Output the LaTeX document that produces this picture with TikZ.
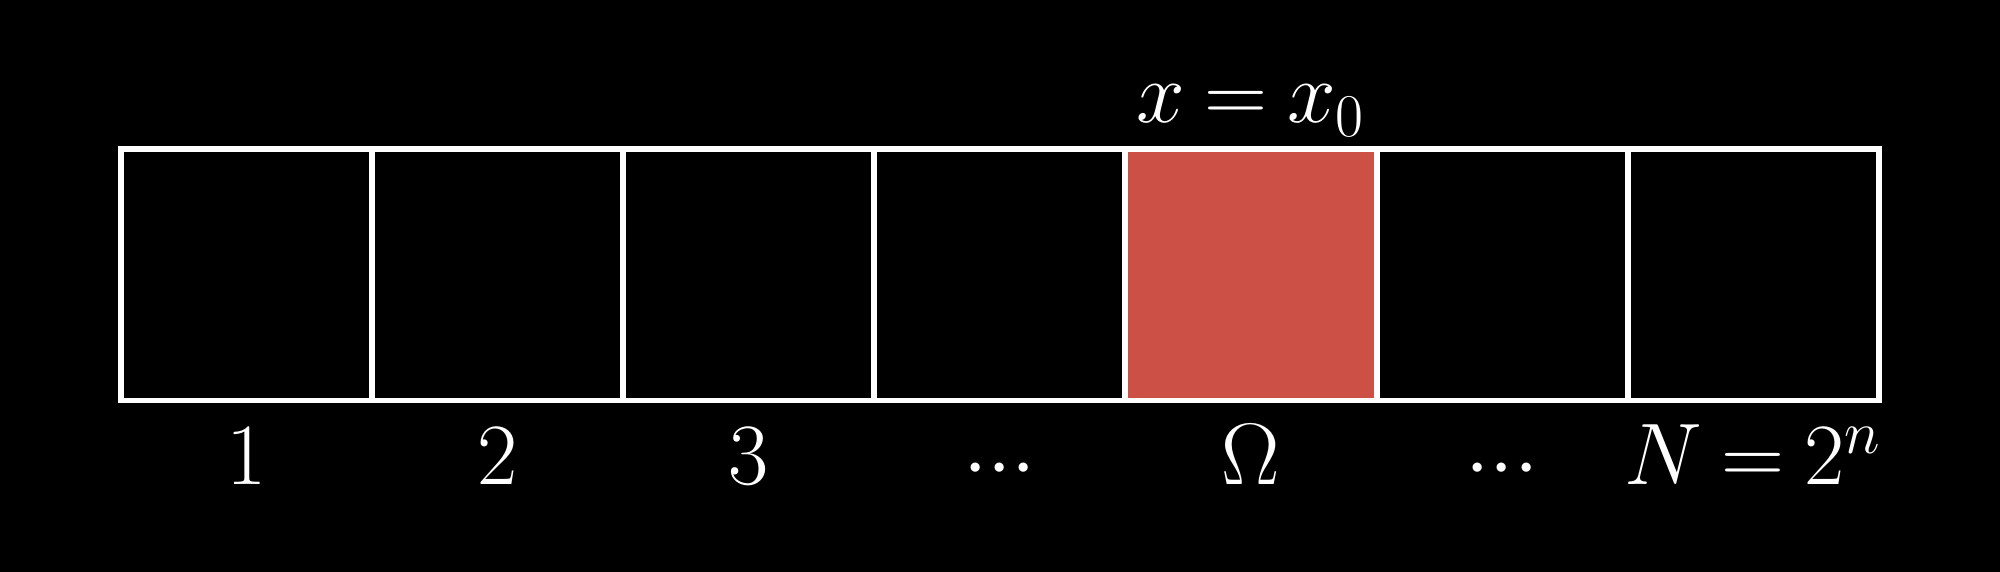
\documentclass[tikz,border=0pt]{standalone}
\usepackage{amsmath,amssymb}
\usetikzlibrary{positioning}
\definecolor{cellred}{HTML}{CC5046}
\thickmuskip=4mu plus 2mu
\begin{document}
\begin{tikzpicture}[font=\fontsize{23}{28}\selectfont,
  cell/.style={draw=white,line width=1.7pt,minimum size=2.511cm,inner sep=0pt,outer sep=0pt},
  lab/.style={text=white,anchor=base}]
\fill[black] (0,0) rectangle (20,5.72);
\useasboundingbox (0,0) rectangle (20,5.72);
% row of basis states
\foreach \i/\c in {1/black,2/black,3/black,4/black,5/cellred,6/black,7/black}{
  \node[cell,fill=\c,anchor=south west] (c\i) at ({1.21+2.511*(\i-1)},1.715){};
}
% marked state
\node[lab] (mark) at (c5.center |- 0,4.49) {$x=x_0$};
% indices below
\foreach \i/\t in {1/1,2/2,3/3,4/{\raisebox{-1.4pt}{${\cdot}{\cdot}{\cdot}$}},5/{\Omega},6/{\raisebox{-1.4pt}{${\cdot}{\cdot}{\cdot}$}},7/{N=2^n}}{
  \node[lab] (l\i) at (c\i.center |- 0,0.87) {$\t$};
}
\end{tikzpicture}
\end{document}
